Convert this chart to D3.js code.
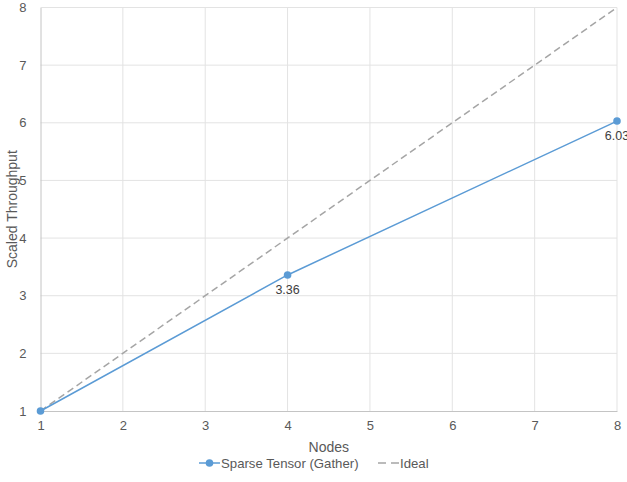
<!DOCTYPE html>
<html>
<head>
<meta charset="utf-8">
<script src="https://cdn.jsdelivr.net/npm/d3@7"></script>
<style>
  body { margin: 0; background: #fff; font-family: "Liberation Sans", Arial, sans-serif; }
</style>
</head>
<body>
<script>
// data
var nodes = [1, 4, 8];
var sparseGather = [1, 3.36, 6.03];
var idealNodes = [1, 8];
var idealValues = [1, 8];
var xTicks = [1, 2, 3, 4, 5, 6, 7, 8];
var yTicks = [1, 2, 3, 4, 5, 6, 7, 8];
var seriesNames = ["Sparse Tensor (Gather)", "Ideal"];

var width = 627, height = 482;
var margin = { left: 40.5, right: 10, top: 7.5, bottom: 71 };

var svg = d3.select("body").append("svg")
  .attr("width", width)
  .attr("height", height);

var x = d3.scaleLinear().domain([1, 8]).range([margin.left, width - margin.right]);
var y = d3.scaleLinear().domain([1, 8]).range([height - margin.bottom, margin.top]);

// grid
svg.append("g").selectAll("line.h")
  .data(yTicks.slice(1))
  .enter().append("line")
  .attr("x1", x(1)).attr("x2", x(8))
  .attr("y1", function (d) { return y(d); })
  .attr("y2", function (d) { return y(d); })
  .attr("stroke", "#e3e3e3").attr("stroke-width", 1);

svg.append("g").selectAll("line.v")
  .data(xTicks.slice(1))
  .enter().append("line")
  .attr("y1", y(1)).attr("y2", y(8))
  .attr("x1", function (d) { return x(d); })
  .attr("x2", function (d) { return x(d); })
  .attr("stroke", "#e3e3e3").attr("stroke-width", 1);

// axes
var xAxis = svg.append("g")
  .attr("transform", "translate(0," + y(1) + ")")
  .call(d3.axisBottom(x).tickValues(xTicks).tickSize(0).tickPadding(10).tickFormat(d3.format("d")));
var yAxis = svg.append("g")
  .attr("transform", "translate(" + x(1) + ",0)")
  .call(d3.axisLeft(y).tickValues(yTicks).tickSize(0).tickPadding(14).tickFormat(d3.format("d")));

[xAxis, yAxis].forEach(function (a) {
  a.select(".domain").attr("stroke", "#c4c4c4");
  a.selectAll("text").attr("fill", "#595959").style("font-size", "13px")
    .style("font-family", "Liberation Sans, Arial, sans-serif");
});

// axis titles
svg.append("text")
  .attr("x", (x(1) + x(8)) / 2).attr("y", 452)
  .attr("text-anchor", "middle")
  .attr("fill", "#595959").style("font-size", "14px")
  .text("Nodes");
svg.append("text")
  .attr("transform", "translate(17," + (y(1) + y(8)) / 2 + ") rotate(-90)")
  .attr("text-anchor", "middle")
  .attr("fill", "#595959").style("font-size", "14px")
  .text("Scaled Throughput");

// ideal line
var line = d3.line().x(function (d) { return x(d[0]); }).y(function (d) { return y(d[1]); });
svg.append("path")
  .datum(d3.zip(idealNodes, idealValues))
  .attr("d", line)
  .attr("fill", "none")
  .attr("stroke", "#a5a5a5").attr("stroke-width", 1.5)
  .attr("stroke-dasharray", "7,4");

// sparse series
var pts = d3.zip(nodes, sparseGather);
svg.append("path")
  .datum(pts)
  .attr("d", line)
  .attr("fill", "none")
  .attr("stroke", "#5b9bd5").attr("stroke-width", 1.5);

svg.append("g").selectAll("circle")
  .data(pts)
  .enter().append("circle")
  .attr("cx", function (d) { return x(d[0]); })
  .attr("cy", function (d) { return y(d[1]); })
  .attr("r", 3.8)
  .attr("fill", "#5b9bd5");

svg.append("g").selectAll("text")
  .data(pts.slice(1))
  .enter().append("text")
  .attr("x", function (d) { return x(d[0]); })
  .attr("y", function (d) { return y(d[1]) + 19; })
  .attr("text-anchor", "middle")
  .attr("fill", "#404040").style("font-size", "12.5px")
  .text(function (d) { return d[1].toFixed(2); });

// legend
var lg = svg.append("g").attr("transform", "translate(0,463)");
lg.append("line").attr("x1", 199).attr("x2", 220).attr("y1", 0).attr("y2", 0)
  .attr("stroke", "#5b9bd5").attr("stroke-width", 1.5);
lg.append("circle").attr("cx", 209.5).attr("cy", 0).attr("r", 3.8).attr("fill", "#5b9bd5");
lg.append("text").attr("x", 221).attr("y", 4.5)
  .attr("fill", "#595959").style("font-size", "13.2px").text(seriesNames[0]);
lg.append("line").attr("x1", 378).attr("x2", 399).attr("y1", 0).attr("y2", 0)
  .attr("stroke", "#a5a5a5").attr("stroke-width", 1.5).attr("stroke-dasharray", "8,5");
lg.append("text").attr("x", 400).attr("y", 4.5)
  .attr("fill", "#595959").style("font-size", "13.2px").text(seriesNames[1]);
</script>
</body>
</html>
